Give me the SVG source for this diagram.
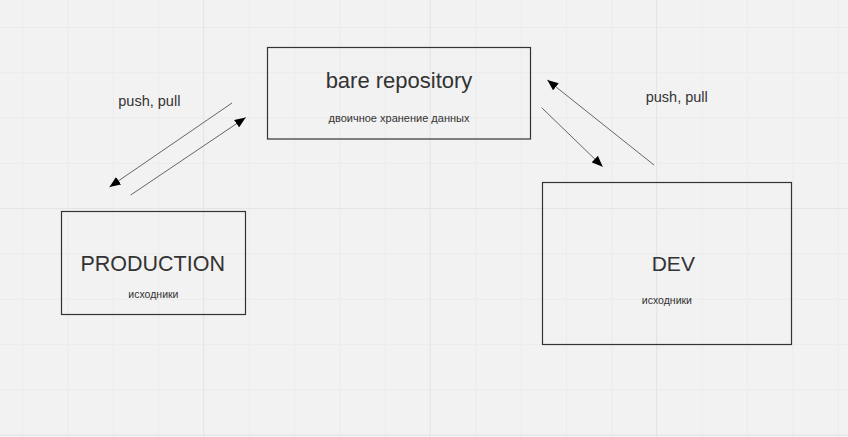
<svg xmlns="http://www.w3.org/2000/svg" width="848" height="437" viewBox="0 0 848 437">
  <defs>
    <pattern id="minor" patternUnits="userSpaceOnUse" x="22.3" y="27" width="45.3" height="45.3">
      <path d="M0.5,0 V45.3 M0,0.5 H45.3" fill="none" stroke="#ebebeb" stroke-width="1"/>
    </pattern>
    <pattern id="major" patternUnits="userSpaceOnUse" x="203" y="208" width="226.5" height="226.5">
      <path d="M0.5,0 V226.5 M0,0.5 H226.5" fill="none" stroke="#e5e5e5" stroke-width="1"/>
    </pattern>
    <marker id="arr" markerUnits="userSpaceOnUse" markerWidth="11" markerHeight="9" refX="11" refY="4.5" orient="auto">
      <path d="M0,0 L11,4.5 L0,9 z" fill="#000"/>
    </marker>
    <style>
      .box { fill: none; stroke: #333; stroke-width: 1.2; }
      .title { font-family: "Liberation Sans", Arial, sans-serif; fill: #333; text-anchor: middle; }
      .sub { font-family: "Liberation Sans", Arial, sans-serif; fill: #333; text-anchor: middle; }
      .lbl { font-family: "Liberation Sans", Arial, sans-serif; fill: #333; font-size: 14.5px; }
      .conn { stroke: #666; stroke-width: 1; fill: none; marker-end: url(#arr); }
    </style>
  </defs>
  <rect width="848" height="437" fill="#f2f2f2"/>
  <rect width="848" height="437" fill="url(#minor)"/>
  <rect width="848" height="437" fill="url(#major)"/>

  <g id="bare-repository">
    <rect class="box" x="267.5" y="47.5" width="263" height="91.5"/>
    <text class="title" x="399" y="87.7" font-size="22">bare repository</text>
    <text class="sub" x="399" y="121.7" font-size="11">двоичное хранение данных</text>
  </g>

  <g id="production">
    <rect class="box" x="61.5" y="211.5" width="184" height="103"/>
    <text class="title" x="152.7" y="270.7" font-size="21.5">PRODUCTION</text>
    <text class="sub" x="153.4" y="297.7" font-size="10.5">исходники</text>
  </g>

  <g id="dev">
    <rect class="box" x="542.5" y="182.5" width="249" height="162"/>
    <text class="title" x="673.3" y="270.7" font-size="21">DEV</text>
    <text class="sub" x="666.9" y="304" font-size="10.5">исходники</text>
  </g>

  <g id="connectors">
    <line class="conn" x1="232" y1="103" x2="109.5" y2="187"/>
    <line class="conn" x1="130.7" y1="195" x2="245.7" y2="117.5"/>
    <line class="conn" x1="654" y1="165" x2="547.3" y2="80"/>
    <line class="conn" x1="541.7" y1="107.7" x2="602.7" y2="166.7"/>
    <text class="lbl" x="118.3" y="106">push, pull</text>
    <text class="lbl" x="645.7" y="102.3">push, pull</text>
  </g>
</svg>
